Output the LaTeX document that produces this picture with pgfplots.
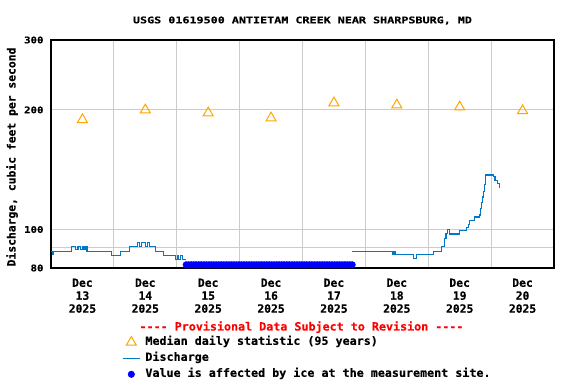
\documentclass[border=0pt]{standalone}
\usepackage{fontspec}
\usepackage{pgfplots}
\pgfplotsset{compat=1.18}
\newfontfamily\ufbig{DejaVu Sans Mono Bold}[FakeBold=0.4]
\newfontfamily\ufmid{DejaVu Sans Mono Bold}[FakeStretch=1.03, FakeBold=0.4]
\newfontfamily\ufsmall{DejaVu Sans Mono Bold}[FakeStretch=1.17, FakeBold=0.4]
\newfontfamily\uftitle{DejaVu Sans Mono Bold}[FakeStretch=1.28, FakeBold=0.4]
\newcommand{\uf}{\ufbig\fontsize{11.4}{13}\selectfont}
\newcommand{\um}{\ufmid\fontsize{11.4}{13}\selectfont}
\newcommand{\us}{\ufsmall\fontsize{9.2}{11}\selectfont}
\newcommand{\ut}{\uftitle\fontsize{9.2}{11}\selectfont}
\definecolor{qline}{RGB}{0,120,200}
\definecolor{medc}{RGB}{255,165,0}
\definecolor{icec}{RGB}{0,0,255}
\definecolor{gridc}{RGB}{204,204,204}
\begin{document}
\begin{tikzpicture}
\path[use as bounding box] (0,0) rectangle (576bp,384bp);
\begin{axis}[
  at={(51bp,116bp)}, anchor=south west,
  scale only axis, width=503bp, height=228bp,
  xmin=0, xmax=8, ymode=log, ymin=80, ymax=300,
  axis line style={black, line width=1.1bp},
  xtick={0.5,1.5,2.5,3.5,4.5,5.5,6.5,7.5},
  xticklabels={{Dec\\13\\2025},{Dec\\14\\2025},{Dec\\15\\2025},{Dec\\16\\2025},{Dec\\17\\2025},{Dec\\18\\2025},{Dec\\19\\2025},{Dec\\20\\2025}},
  xticklabel style={align=center, font=\uf, yshift=-7bp},
  minor xtick={1,2,3,4,5,6,7},
  xminorgrids,
  ytick={80,100,200,300},
  yticklabels={80,100,200,300},
  yticklabel style={font=\us, xshift=-4bp},
  minor ytick={90},
  ymajorgrids, yminorgrids,
  major tick length=0pt, minor tick length=0pt,
  grid style={gridc, line width=0.9bp},
  minor grid style={gridc, line width=0.9bp},
  /pgf/number format/assume math mode=true,
  title={USGS 01619500 ANTIETAM CREEK NEAR SHARPSBURG, MD},
  title style={font=\ut, at={(axis description cs:0.5,1)}, anchor=base, yshift=10.7bp},
  ylabel={Discharge, cubic feet per second},
  ylabel style={font=\uf, at={(axis description cs:0,0.487)}, anchor=base, yshift=35.5bp},
  legend style={at={(axis description cs:0.1412,-0.290)}, anchor=north west, draw=none, fill=none,
    font=\um, inner sep=0pt, row sep=0pt,
    nodes={inner xsep=5bp, inner ysep=0pt, text height=10.5bp, text depth=5.5bp}},
  legend cell align=left,
]
\addlegendimage{only marks, mark=triangle, mark size=5.8bp, mark options={draw=medc, fill=none, line width=1bp}}
\addlegendentry{Median daily statistic (95 years)}
\addlegendimage{no marks, qline, line width=1.2bp}
\addlegendentry{Discharge}
\addlegendimage{only marks, mark=*, mark size=3.3bp, mark options={draw=icec, fill=icec}}
\addlegendentry{Value is affected by ice at the measurement site.}

% discharge, segment 1
\addplot[const plot, no marks, qline, line width=1.2bp, forget plot] coordinates {
(0.00,88.2) (0.03,86.6) (0.045,88.2) (0.322,90.5) (0.386,89.0) (0.429,90.5) (0.465,89.0)
(0.508,90.5) (0.529,89.0) (0.545,90.5) (0.571,88.2) (0.957,86.1) (1.106,88.2) (1.249,90.5)
(1.381,92.6) (1.408,90.5) (1.433,92.6) (1.497,90.5) (1.535,92.6) (1.567,90.5) (1.662,88.2)
(1.794,86.1) (1.984,84.2) (2.008,86.1) (2.032,84.2) (2.056,86.1) (2.09,84.2) (2.15,84.2)
};
% discharge, segment 2
\addplot[const plot, no marks, qline, line width=1.2bp, forget plot] coordinates {
(4.789,88.2) (5.433,86.7) (5.45,88.2) (5.471,86.7) (5.762,84.6) (5.814,86.7) (6.079,88.2)
(6.206,90.5) (6.254,95.0) (6.281,97.8) (6.306,100) (6.333,99) (6.344,97.4) (6.503,99.4)
(6.608,101.2) (6.635,102.9) (6.662,105.3) (6.730,107.5) (6.821,108.8) (6.837,113)
(6.852,116.8) (6.868,120.7) (6.881,124.7) (6.892,130.1) (6.905,134.6) (6.916,137.2)
(7.032,135.8) (7.063,133) (7.100,130.7) (7.127,127.5) (7.14,127.5)
};
% ice-affected values
\addplot[only marks, mark=*, mark size=3.3bp, mark options={draw=icec, fill=icec}, forget plot] coordinates {
(2.15,81.5) (2.19,81.5) (2.23,81.5) (2.27,81.5) (2.31,81.5) (2.35,81.5) (2.39,81.5) (2.43,81.5)
(2.47,81.5) (2.51,81.5) (2.55,81.5) (2.59,81.5) (2.63,81.5) (2.67,81.5) (2.71,81.5) (2.75,81.5)
(2.79,81.5) (2.83,81.5) (2.87,81.5) (2.91,81.5) (2.95,81.5) (2.99,81.5) (3.03,81.5) (3.07,81.5)
(3.11,81.5) (3.15,81.5) (3.19,81.5) (3.23,81.5) (3.27,81.5) (3.31,81.5) (3.35,81.5) (3.39,81.5)
(3.43,81.5) (3.47,81.5) (3.51,81.5) (3.55,81.5) (3.59,81.5) (3.63,81.5) (3.67,81.5) (3.71,81.5)
(3.75,81.5) (3.79,81.5) (3.83,81.5) (3.87,81.5) (3.91,81.5) (3.95,81.5) (3.99,81.5) (4.03,81.5)
(4.07,81.5) (4.11,81.5) (4.15,81.5) (4.19,81.5) (4.23,81.5) (4.27,81.5) (4.31,81.5) (4.35,81.5)
(4.39,81.5) (4.43,81.5) (4.47,81.5) (4.51,81.5) (4.55,81.5) (4.59,81.5) (4.63,81.5) (4.67,81.5)
(4.71,81.5) (4.75,81.5) (4.79,81.5)
};
% median daily statistic
\addplot[only marks, mark=triangle, mark size=5.8bp, mark options={draw=medc, fill=none, line width=1bp}, forget plot] coordinates {
(0.5,189.0) (1.5,199.9) (2.5,196.5) (3.5,190.9) (4.5,208.3) (5.5,205.8) (6.5,203.4) (7.5,199.1)
};
\end{axis}
\node[anchor=base, font=\um, text=red] at (301.5bp,53.5bp) {---- Provisional Data Subject to Revision ----};
\end{tikzpicture}
\end{document}
